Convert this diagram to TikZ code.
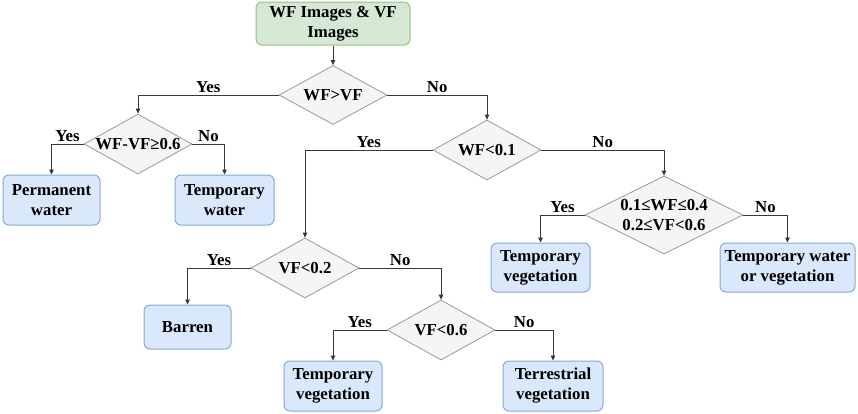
\documentclass[tikz,border=0pt]{standalone}
\usepackage{fontspec}
\setmainfont{Liberation Serif}
\usetikzlibrary{shapes.geometric,arrows.meta}
\definecolor{startfill}{HTML}{D5E8D4}
\definecolor{startline}{HTML}{97C17F}
\definecolor{endfill}{HTML}{DAE8FC}
\definecolor{endline}{HTML}{86A9DA}
\definecolor{testfill}{HTML}{F5F5F5}
\definecolor{testline}{HTML}{9A9A9A}
\begin{document}
\begin{tikzpicture}[x=1pt,y=-1pt,
  every node/.style={font=\bfseries\fontsize{16.8}{20}\selectfont},
  startbox/.style={rectangle, rounded corners=6pt, draw=startline, fill=startfill, line width=1pt, inner sep=0pt, align=center},
  endbox/.style={rectangle, rounded corners=6pt, draw=endline, fill=endfill, line width=1pt, inner sep=0pt, align=center},
  test/.style={diamond, draw=testline, fill=testfill, line width=0.8pt, inner sep=0pt, minimum width=108pt, minimum height=60pt},
  arr/.style={draw=black!78, line width=0.8pt, -{Triangle[length=5pt,width=4.5pt]}},
  ans/.style={above, inner sep=1.5pt, pos=0.25}]
  \useasboundingbox (0,0) rectangle (858,413);
  % start
  \node[startbox, minimum width=154pt, minimum height=43pt] (start) at (333,23.5) {WF Images \& VF\\Images};
  % tests
  \node[test, minimum height=59pt, label=center:{WF>VF}] (wfvf) at (333,95) {};
  \node[test, label=center:{WF-VF≥0.6}] (diff) at (138,144) {};
  \node[test, label=center:{WF<0.1}] (wflow) at (487,150) {};
  \node[test, minimum width=158pt, minimum height=78pt, label={[align=center]center:{0.1≤WF≤0.4\\0.2≤VF<0.6}}] (mid) at (664,215) {};
  \node[test, label=center:{VF<0.2}] (vflow) at (305,268) {};
  \node[test, label=center:{VF<0.6}] (vfmid) at (441,330) {};
  % classes
  \node[endbox, minimum width=97pt, minimum height=50pt] (permw) at (51.5,200) {Permanent\\water};
  \node[endbox, minimum width=99pt, minimum height=50pt] (tempw) at (224.5,200) {Temporary\\water};
  \node[endbox, minimum width=99pt, minimum height=49pt] (tempv1) at (540.5,267.5) {Temporary\\vegetation};
  \node[endbox, minimum width=135pt, minimum height=49pt] (tempwv) at (787.5,267.5) {Temporary water\\or vegetation};
  \node[endbox, minimum width=87pt, minimum height=44pt] (barren) at (187.5,327) {Barren};
  \node[endbox, minimum width=98pt, minimum height=50pt] (tempv2) at (333,386) {Temporary\\vegetation};
  \node[endbox, minimum width=100pt, minimum height=50pt] (terr) at (553,386) {Terrestrial\\vegetation};
  % connectors
  \draw[arr] (start) -- (wfvf);
  \draw[arr] (wfvf.west) -| (diff.north) node[ans] {Yes};
  \draw[arr] (wfvf.east) -| (wflow.north) node[ans] {No};
  \draw[arr] (diff.west) -| (permw.north) node[ans] {Yes};
  \draw[arr] (diff.east) -| (tempw.north) node[ans] {No};
  \draw[arr] (wflow.west) -| (vflow.north) node[ans] {Yes};
  \draw[arr] (wflow.east) -| (mid.north) node[ans] {No};
  \draw[arr] (mid.west) -| (tempv1.north) node[ans] {Yes};
  \draw[arr] (mid.east) -| (tempwv.north) node[ans] {No};
  \draw[arr] (vflow.west) -| (barren.north) node[ans] {Yes};
  \draw[arr] (vflow.east) -| (vfmid.north) node[ans] {No};
  \draw[arr] (vfmid.west) -| (tempv2.north) node[ans] {Yes};
  \draw[arr] (vfmid.east) -| (terr.north) node[ans] {No};
\end{tikzpicture}
\end{document}
